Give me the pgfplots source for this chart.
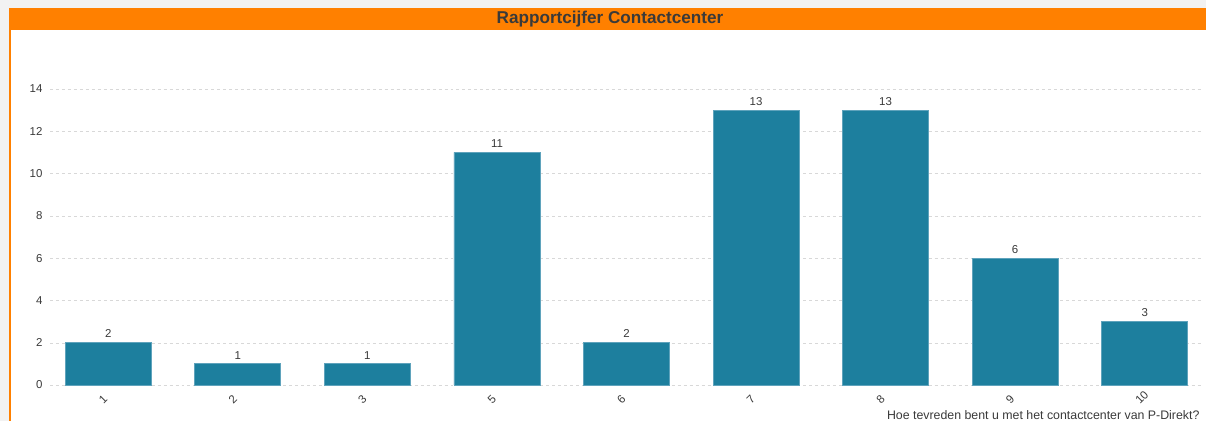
\documentclass[border=0pt]{standalone}
\usepackage{pgfplots}
\pgfplotsset{compat=1.18}
\usepackage{fontspec}
\setmainfont{Liberation Sans}
\definecolor{barblue}{HTML}{1D7F9E}
\definecolor{baredge}{HTML}{5FA3BC}
\definecolor{orng}{HTML}{FF8000}
\definecolor{txt}{HTML}{3A3A3A}
\definecolor{gridc}{HTML}{D8D8D8}
\begin{document}
\begin{tikzpicture}
\fill[black!5] (0,0) rectangle (1206bp,421bp);
\fill[white] (9bp,0) rectangle (1206bp,413bp);
\fill[orng] (9bp,391bp) rectangle (1206bp,413bp);
\fill[orng] (9bp,0) rectangle (10.5bp,391bp);
\node[font=\fontsize{17.2}{19}\selectfont\bfseries, text=txt] at (610bp,402bp) {Rapportcijfer Contactcenter};
\begin{axis}[
  at={(50bp,36bp)}, anchor=south west,
  scale only axis, width=1153bp, height=296bp,
  xmin=-0.45, xmax=8.45, ymin=0, ymax=14,
  axis line style={draw=none},
  major tick length=0pt,
  ymajorgrids, grid style={gridc, dashed},
  ytick={0,2,...,14},
  xtick=data, xticklabels={1,2,3,5,6,7,8,9,10},
  x tick label style={xshift=-7.5bp, yshift=-17bp, rotate=45, anchor=west, inner sep=0pt},
  y tick label style={xshift=-4bp},
  tick label style={font=\fontsize{11.5}{13}\selectfont, text=txt},
  /pgf/number format/assume math mode=true,
  clip=false,
]
\addplot[ybar, bar width=86bp, fill=barblue, draw=baredge, line width=0.8bp,
  nodes near coords, nodes near coords style={font=\fontsize{11.5}{13}\selectfont, text=txt, yshift=1bp}]
  coordinates {(0,2) (1,1) (2,1) (3,11) (4,2) (5,13) (6,13) (7,6) (8,3)};
\end{axis}
\node[anchor=base east, font=\fontsize{12.4}{14}\selectfont, text=txt] at (1203bp,1.5bp) {Hoe tevreden bent u met het contactcenter van P-Direkt?};
\pgfresetboundingbox
\useasboundingbox (0,0) rectangle (1206bp,421bp);
\end{tikzpicture}
\end{document}
